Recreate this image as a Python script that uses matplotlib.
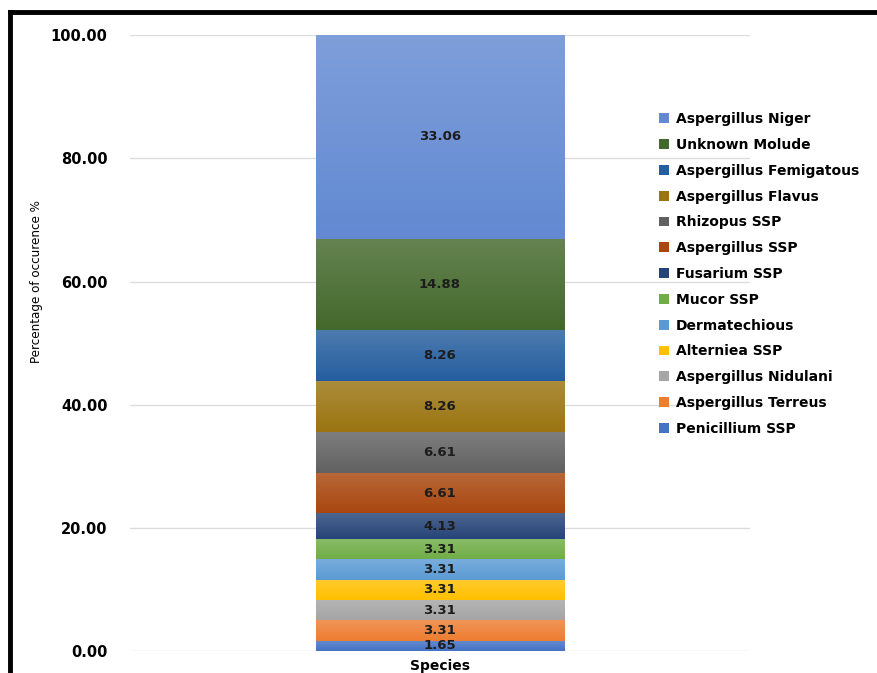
import matplotlib.pyplot as plt
import numpy as np
from matplotlib.colors import to_rgb
from matplotlib.lines import Line2D

# species from bottom of the stack to the top
species = ["Penicillium SSP", "Aspergillus Terreus", "Aspergillus Nidulani",
           "Alterniea SSP", "Dermatechious", "Mucor SSP", "Fusarium SSP",
           "Aspergillus SSP", "Rhizopus SSP", "Aspergillus Flavus",
           "Aspergillus Femigatous", "Unknown Molude", "Aspergillus Niger"]
percent = [1.65, 3.31, 3.31, 3.31, 3.31, 3.31, 4.13,
           6.61, 6.61, 8.26, 8.26, 14.88, 33.06]
colors = ["#4472c4", "#ed7d31", "#a5a5a5", "#ffc000", "#5b9bd5", "#70ad47",
          "#264478", "#a9470f", "#616161", "#9a7410", "#255e9e", "#43682b",
          "#6289d2"]
yticks = [0, 20, 40, 60, 80, 100]

fig = plt.figure(figsize=(8.77, 6.73), dpi=100)
ax = fig.add_axes([0.148, 0.0327, 0.707, 0.915])

bottom = 0.0
handles = []
for name, val, col in zip(species, percent, colors):
    bars = ax.bar(0, val, width=0.4, bottom=bottom, color=col, label=name)
    handles.append(bars)
    # soft vertical gradient like the office chart style (lighter at the top)
    base = np.array(to_rgb(col))
    t = np.linspace(0, 1, 64)[:, None]
    grad = base * (1 - 0.18 * t) + 0.18 * t  # mix toward white going up
    img = ax.imshow(grad[:, None, :], extent=(-0.2, 0.2, bottom, bottom + val),
                    origin="lower", aspect="auto", zorder=bars[0].get_zorder())
    img.set_clip_path(bars[0])
    ax.text(0, bottom + val / 2, f"{val:.2f}", ha="center", va="center",
            fontsize=9.5, fontweight="bold", color="#1c1c1c", zorder=5)
    bottom += val

ax.set_xlim(-0.5, 0.5)
ax.set_ylim(0, 100)
ax.set_aspect("auto")
ax.set_yticks(yticks)
ax.set_yticklabels([f"{t:.2f}" for t in yticks], fontsize=10.5, fontweight="bold")
ax.set_xticks([0])
ax.set_xticklabels(["Species"], fontsize=10, fontweight="bold")
ax.tick_params(axis="y", length=0, pad=16)
ax.tick_params(axis="x", length=0, pad=6)
ax.grid(axis="y", color="#dcdcdc", linewidth=1)
ax.set_axisbelow(True)
for s in ax.spines.values():
    s.set_visible(False)

fig.text(0.042, 0.582, "Percentage of occurence %", rotation=90,
         ha="center", va="center", fontsize=9.5, fontstretch="condensed",
         family=["DejaVu Sans"])

fig.legend(handles[::-1], species[::-1], loc="upper left",
           bbox_to_anchor=(0.737, 0.852), frameon=False,
           prop={"size": 10, "weight": "bold"},
           handlelength=0.7, handleheight=0.7, handletextpad=0.5,
           labelspacing=0.85)

# black frame at top and left edges
fig.add_artist(Line2D([0.011, 1.0], [0.982, 0.982], color="black", lw=3.5,
                      transform=fig.transFigure))
fig.add_artist(Line2D([0.011, 0.011], [0.0, 0.982], color="black", lw=3.5,
                      transform=fig.transFigure))

fig.savefig("out.png", dpi=100)
